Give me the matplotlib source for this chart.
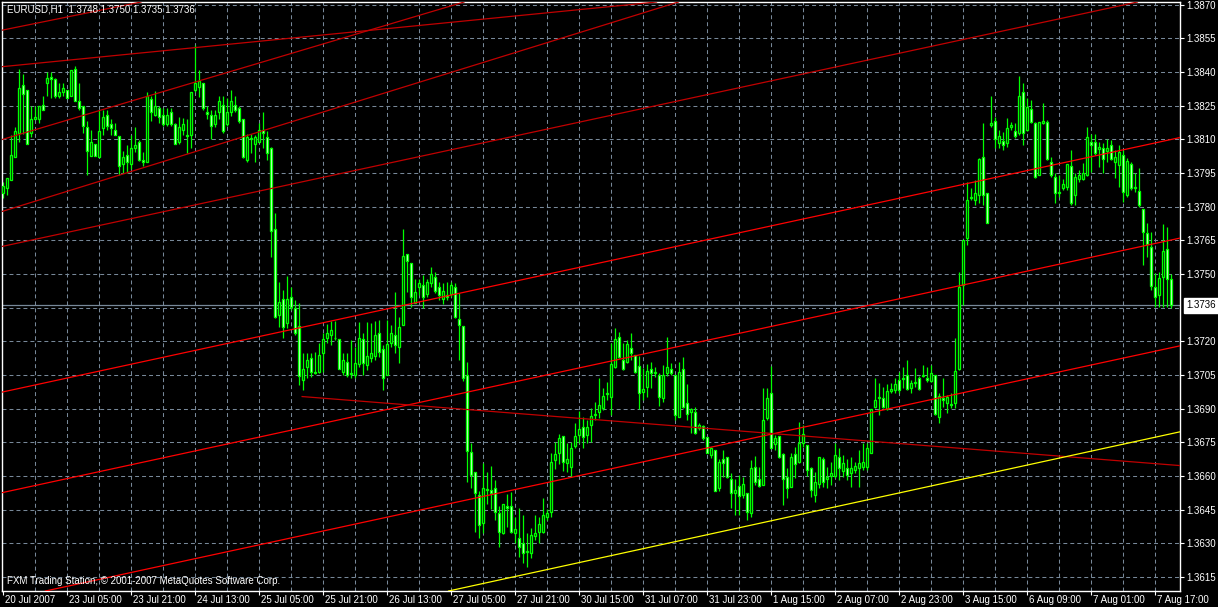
import numpy as np
import matplotlib
matplotlib.use('Agg')
import matplotlib.pyplot as plt
from matplotlib import transforms

# EURUSD H1 candles, values are pips above BASE
BASE = 1.3600

opens = [
    186, 188.5, 192, 202, 213, 234, 232, 213, 219, 219,
    225.5, 235, 238, 237, 229.5, 231, 232, 229.5, 241.5, 227,
    225, 215.5, 202.5, 208, 202, 215, 221, 217, 214, 211.5,
    199, 203, 199, 206, 209, 201, 200, 228, 221, 224,
    221, 217, 222, 217, 209, 214, 212, 212, 232, 233.5,
    235, 222, 221, 217, 222, 225.5, 217, 222, 225.5, 224,
    219, 201, 210.5, 208, 209, 214, 211, 206, 170, 131.7,
    138.7, 128, 139.9, 134.7, 126.8, 102.7, 108.7, 112.8, 106.4, 106.4,
    114.6, 121.6, 122.8, 121.7, 120.9, 106.4, 110.6, 105.5, 105, 109.7,
    120.9, 109.4, 112.8, 113.6, 123.5, 116.8, 105, 119.4, 122.8, 117.6,
    127.2, 158.9, 154.7, 137, 144, 145.1, 141.1, 145.8, 148.8, 144,
    138.7, 140.6, 141.1, 144, 129.9, 126.8, 105, 70.7, 61.6, 51.5,
    39.2, 54, 53.8, 54.5, 43.4, 34.4, 46.6, 46.6, 34.4, 32.2,
    30.3, 26.3, 25.5, 33.3, 35.2, 35, 41.6, 44.1, 67.1, 70.4,
    77.8, 65.6, 64.1, 73.4, 78.3, 82, 78.3, 82.7, 87.2, 88.7,
    90.2, 96.5, 95.3, 108.7, 121.8, 111.7, 110.9, 116.9, 113.9, 109,
    97.6, 99.5, 107.5, 105.7, 105, 94.6, 105.7, 107.5, 105, 86.4,
    107.5, 92.7, 88.7, 88.7, 81.2, 82.3, 77.5, 69.3, 71.6, 54.5,
    67.4, 68.3, 58.5, 52.3, 55.5, 51.5, 52.3, 43.4, 64.1, 58.5,
    56, 85.7, 96.8, 74.2, 77.8, 69.8, 59.4, 55.2, 69.6, 66.4,
    74.5, 73.8, 63.4, 51.5, 56.4, 67.4, 58.5, 60, 60, 68.3,
    62.4, 63.4, 61.5, 62.7, 63.4, 64.1, 64.1, 70.4, 90.6, 94.6,
    94.6, 89.7, 97.9, 98.3, 102.8, 103, 105, 99.1, 101.3, 103.8,
    104.5, 103.8, 102.5, 105, 86.4, 94.6, 92.4, 92, 92.7, 107.5,
    145.1, 165.9, 184, 183, 185.2, 202, 185.9, 216.5, 218.2, 208.2,
    209.3, 208.2, 215.4, 213.9, 212.7, 231.3, 214.2, 223.4, 217.1, 194.1,
    217.5, 217.9, 200.1, 193.1, 186.2, 188.2, 188.9, 198.1, 185.2, 192.2,
    192.2, 194.1, 209, 209, 205.6, 206, 205, 207.5, 200.1, 198.6,
    203, 185.2, 199, 188.2, 187, 178.8, 168.1, 161.9, 144.1, 140.7,
    148.8, 161, 148,
]

highs = [
    191, 193, 212, 215.5, 241.5, 239, 232, 225, 225, 225,
    229.5, 240, 240, 237.5, 235, 235, 232, 241, 242.5, 235,
    225, 218, 214, 208, 223, 223, 223, 219, 217.5, 211.5,
    205, 207.5, 212, 215.5, 209.5, 204.5, 231, 229.5, 231.5, 225,
    224, 224, 224, 217.5, 220, 219.5, 219, 231, 252, 241,
    235, 225, 223, 223, 229.5, 229.5, 228.5, 232, 229.5, 225,
    219, 212.5, 212.5, 212, 217.5, 222, 213.5, 206.5, 177, 146.5,
    142.8, 149, 144.3, 138.4, 136.9, 114.6, 114.6, 114.6, 115.4, 119.1,
    123.5, 127.7, 129, 129.2, 120.9, 114.6, 114.6, 120.6, 117.6, 128.7,
    123.5, 128.7, 128, 129, 129.5, 118.3, 129.5, 127.2, 142.1, 131,
    169.9, 158.9, 154.7, 148, 148, 149.5, 148, 153.2, 151, 146.5,
    145.8, 146.5, 146.5, 146.1, 141.4, 126.8, 110.9, 74.6, 61.6, 53.5,
    65.9, 61.9, 64.6, 58.2, 46.6, 47.5, 52, 53, 41.6, 45.6,
    42.6, 34.7, 36.7, 42.6, 41.6, 50, 45.1, 70.1, 75.3, 78.7,
    77.8, 74.6, 75.3, 83.5, 89.1, 86.1, 84.9, 90.2, 93.1, 103.5,
    99.1, 102, 119.1, 125.8, 124.3, 119.1, 120.6, 123.6, 113.9, 113.5,
    108, 110, 110.9, 108.7, 105.7, 109.4, 121.8, 110.2, 105, 110.9,
    113.2, 101, 90.1, 90.6, 83.5, 82.7, 77.5, 73.1, 71.6, 67.4,
    71.6, 68.3, 61.2, 58.5, 60.4, 59.7, 52.3, 67.1, 68.9, 64.1,
    99, 99, 109, 78.3, 77.8, 70.4, 63.4, 70.1, 73.1, 84.2,
    82.7, 73.8, 64.1, 61.9, 68.6, 68.3, 64.1, 66.4, 74.8, 72.3,
    69.3, 67.4, 68.6, 66.4, 71.6, 74.5, 74.5, 89.7, 103.5, 101.3,
    99.8, 101, 101.3, 103.5, 106.5, 108.7, 111.7, 102.8, 108, 104.6,
    109.5, 108.7, 109.5, 105, 96.8, 103.5, 96.3, 96.8, 121.3, 151,
    165.1, 191.2, 188.2, 191.9, 201.5, 217.1, 185.9, 229.3, 220.1, 214.2,
    213.4, 219.4, 217.9, 217.1, 238.2, 235.3, 228.3, 227.5, 217.9, 217.9,
    226.4, 218.6, 202.3, 194.9, 194.1, 192.2, 198.9, 205.3, 194.9, 196.3,
    199.6, 215.7, 212.4, 212.4, 209, 208.5, 210, 209.7, 205.3, 207.5,
    205.3, 201.5, 200.1, 194.9, 197.1, 178.8, 172.6, 168.9, 150.3, 151,
    172.3, 170.8, 150,
]

lows = [
    184, 185, 192, 202, 209, 212.5, 208, 211, 219, 217.5,
    223, 229.5, 228.5, 228.5, 228.5, 229.5, 228.5, 229.5, 227, 223,
    213, 194, 202.5, 202.5, 202, 212, 214, 212, 212, 194,
    195, 195, 197, 204.5, 200.5, 198, 200, 218, 220.5, 217.5,
    216, 216, 216, 208, 208, 212, 204, 206, 231, 229,
    223, 219, 210, 215.5, 219, 213, 216, 220.5, 222, 217.5,
    201.5, 200, 204, 200, 209, 206, 201, 157.5, 130.5, 126.5,
    121.7, 126, 134, 122.8, 100.5, 98.3, 103.5, 104, 105.4, 105.7,
    106.4, 119.1, 118.3, 120.6, 107.5, 105, 104.2, 103.5, 103.5, 108.7,
    105, 107.2, 110.9, 111.6, 113.1, 98.3, 105, 117.6, 114.6, 110.2,
    127.2, 142.1, 135.4, 136.9, 140.6, 134.7, 139.9, 144.3, 141.4, 138.4,
    136.6, 138.4, 139.9, 130.2, 111.7, 102.5, 57.5, 54.5, 35.2, 32.2,
    34.4, 47.5, 45.1, 40.4, 28.5, 34, 37.4, 34.4, 30, 24,
    21.4, 19.6, 23.3, 31.5, 30, 34.4, 40.4, 41.6, 63, 65.3,
    62.4, 61.9, 59.7, 72.3, 74.6, 72.3, 74.6, 75.3, 84.9, 85.7,
    89.4, 93.9, 87.2, 108, 112.4, 107.2, 110.2, 111.7, 106, 89.7,
    93.9, 95.3, 99, 104, 91.2, 93.1, 104.5, 105, 84.9, 86.4,
    90.1, 84.9, 79, 78.7, 80.5, 76, 70.1, 68, 53.5, 53.5,
    59.7, 59, 45.6, 42.6, 42.6, 50, 40.4, 41.9, 56, 55.2,
    56, 84.9, 72.3, 71.6, 67.9, 47.1, 50, 55.2, 59, 65.6,
    73.1, 60, 50.8, 48.6, 54.5, 55.2, 54.5, 56, 59, 58.2,
    59.7, 58.2, 55.2, 61.2, 55.2, 62.7, 62.7, 70.1, 90.1, 87.2,
    90.1, 89.4, 96.8, 96.8, 96.8, 99.1, 98.3, 96.8, 99.8, 98.3,
    104.2, 102, 102, 87.2, 83.5, 90.9, 87.9, 90.2, 90.2, 107.2,
    136.2, 162.9, 183, 180.8, 181.5, 180.8, 172.6, 215.5, 206, 206,
    205.3, 206.7, 214.2, 210.5, 212, 207.5, 213.9, 217.1, 192.6, 194.1,
    217, 200.8, 193.4, 181.8, 184.5, 187.4, 187.4, 180.8, 180.8, 191.2,
    191.9, 193.7, 195.6, 203, 197.8, 195.2, 200.1, 200.8, 192.6, 188.9,
    182.2, 184.5, 187.4, 186.7, 180, 154, 157.7, 142.9, 135.5, 135.5,
    135.5, 135.5, 135,
]

closes = [
    189, 193, 203, 213.5, 233, 230, 208, 219, 220, 225,
    223, 237.5, 237, 229.5, 231, 233, 228.5, 241, 227, 224,
    216, 205, 209, 202.5, 213.5, 220, 216, 215, 212, 198,
    202, 200, 206, 207.5, 201, 200, 229.5, 222, 225, 220,
    217, 221, 217, 208, 215.5, 217, 211.5, 231, 235, 236,
    224, 221.5, 216, 221, 227, 213.5, 222, 227, 223, 218,
    202, 211, 210, 211, 214, 213, 204, 169, 130.7, 137.6,
    126.5, 138.7, 135.4, 123.5, 104.5, 107.5, 111.6, 106.4, 105.7, 113.9,
    120.9, 123.5, 125, 121.3, 107.5, 111.6, 105, 105.7, 110.5, 121.7,
    110.5, 113.4, 114.6, 122.8, 115.4, 103.5, 118.6, 123.5, 118.3, 126.5,
    158, 155.9, 139.9, 141.8, 145.8, 139.6, 146.5, 150, 142.5, 140.6,
    142.5, 139.9, 145.1, 130.7, 127.5, 103.5, 71.3, 60.4, 52.3, 38.2,
    54.5, 53.6, 52.3, 44.1, 35.2, 47.5, 45.6, 35.2, 36.2, 28.2,
    25.5, 26.7, 33.7, 34.4, 38.4, 42.6, 43.4, 66.4, 69.8, 76.8,
    66.4, 67.4, 72.3, 77.8, 80.8, 77.5, 82, 86.7, 87.6, 91.6,
    95.6, 97, 109.9, 120.9, 112.9, 107.5, 118.8, 114.7, 106.5, 96.8,
    98.6, 106.9, 105.7, 106.5, 95.3, 105, 108.7, 105.7, 87.2, 106.5,
    90.6, 87.6, 89.7, 79.3, 82.7, 76.8, 70.4, 72.3, 53.5, 66.4,
    65.6, 59.4, 52.3, 53.7, 51.1, 56.4, 44.1, 63.4, 57.5, 55.5,
    84.9, 94.6, 72.3, 76.8, 68.3, 58.5, 54.5, 68.3, 65.3, 74.5,
    78.7, 62.7, 53.7, 57.5, 68.3, 57.5, 59.7, 61.5, 69.3, 63.4,
    65.6, 60.4, 63.4, 64.4, 65.6, 66.4, 72.3, 89.7, 93.9, 95.3,
    90.6, 97.9, 98.6, 101, 98.3, 103.5, 98.6, 101.3, 102, 98.6,
    105, 102.8, 105.7, 87.6, 95.6, 93.9, 95, 91.6, 106.9, 144.4,
    165.1, 183, 184.5, 185.9, 201.1, 185.2, 172.9, 217.1, 210, 211.5,
    207.5, 215.2, 216.2, 211.5, 229.3, 213, 224.6, 217.9, 193.1, 217.9,
    218, 201.1, 194.1, 185.9, 186.7, 190, 198.9, 181.8, 193.4, 194.1,
    194.9, 211.2, 207.5, 204.1, 206.4, 201.1, 206, 201.1, 202, 204.5,
    186.7, 200.4, 188.2, 188.9, 180.8, 168.9, 163.4, 144.7, 139.9, 148.1,
    160.2, 148, 136,
]

date_labels = [
    '20 Jul 2007', '23 Jul 05:00', '23 Jul 21:00', '24 Jul 13:00',
    '25 Jul 05:00', '25 Jul 21:00', '26 Jul 13:00', '27 Jul 05:00',
    '27 Jul 21:00', '30 Jul 15:00', '31 Jul 07:00', '31 Jul 23:00',
    '1 Aug 15:00', '2 Aug 07:00', '2 Aug 23:00', '3 Aug 15:00',
    '6 Aug 09:00', '7 Aug 01:00', '7 Aug 17:00',
]
bars_per_label = 16

price_labels = ['1.3870', '1.3855', '1.3840', '1.3825', '1.3810', '1.3795',
                '1.3780', '1.3765', '1.3750', '1.3735', '1.3720', '1.3705',
                '1.3690', '1.3675', '1.3660', '1.3645', '1.3630', '1.3615']
last_price = 1.3736
last_label = '1.3736'
title = 'EURUSD,H1  1.3748 1.3750 1.3735 1.3736'
copyright_txt = 'FXM Trading Station, \u00a9 2001-2007 MetaQuotes Software Corp.'

# trend lines: (bar, price) -> (bar, price)
red_lines = [((0, 1.36975), (214.2, 1.37800)),
             ((0, 1.36527), (214.2, 1.37352)),
             ((0, 1.36047), (214.2, 1.36872))]
darkred_lines = [((0, 1.37624), (214.2, 1.38446)),
                 ((-0.15, 1.38587), (30, 1.38696)),
                 ((-0.15, 1.38424), (74.2, 1.38555)),
                 ((-0.15, 1.38100), (69.2, 1.38468)),
                 ((5, 1.37808), (89.6, 1.38275))]
darkred_ray = ((74.7, 1.36954), (221.7, 1.36748))
yellow_line = ((135.4, 1.36181), (294.2, 1.36797))

LIME = '#00FF00'
GRID = '#778899'
RED = '#FF0000'
DARKRED = '#C00000'
FONT = ['Liberation Sans', 'DejaVu Sans']
FS = 7

o = BASE + np.array(opens) / 1e4
h = BASE + np.array(highs) / 1e4
l = BASE + np.array(lows) / 1e4
c = BASE + np.array(closes) / 1e4
x = np.arange(len(c))

fig = plt.figure(figsize=(12.18, 6.07), dpi=100, facecolor='black')
ax = fig.add_axes([2 / 1218, 16 / 607, 1178 / 1218, 589 / 607])
ax.set_facecolor('black')
ax.set_xlim(-0.325, 294.175)
ax.set_ylim(1.360876, 1.387120)

# grid
levels = [float(s) for s in price_labels]
dash = (0, (3.8, 2.9))
for lv in levels:
    ax.axhline(lv, color=GRID, lw=0.75, ls=dash, zorder=1)
for i in range(8, 295, 8):
    ax.axvline(i, color=GRID, lw=0.75, ls=dash, zorder=1)
ax.axhline(last_price, color=GRID, lw=0.9, zorder=1.5)

# candles
top = np.maximum(np.maximum(h, o), c)
bot = np.minimum(np.minimum(l, o), c)
ax.vlines(x, bot, top, color=LIME, lw=0.9, zorder=2)
body_lo = np.minimum(o, c)
body_h = np.abs(c - o)
fills = np.where(c >= o, 'black', 'white')
ax.bar(x, body_h, bottom=body_lo, width=0.55, color=fills, edgecolor=LIME,
       linewidth=0.95, zorder=3)

# trend lines
for p1, p2 in red_lines:
    ax.axline(p1, p2, color=RED, lw=0.9, zorder=4)
for p1, p2 in darkred_lines:
    ax.axline(p1, p2, color=DARKRED, lw=0.9, zorder=4)
(rx1, ry1), (rx2, ry2) = darkred_ray
slope = (ry2 - ry1) / (rx2 - rx1)
ax.plot([rx1, 300], [ry1, ry1 + slope * (300 - rx1)], color=DARKRED, lw=0.9, zorder=4)
ax.axline(*yellow_line, color='#FFFF00', lw=0.9, zorder=4)

for sp in ax.spines.values():
    sp.set_color('white')
    sp.set_linewidth(1.0)

# price axis on the right
ax.yaxis.tick_right()
shown = [i for i, s in enumerate(price_labels) if s != '1.3735']
ax.set_yticks([levels[i] for i in shown])
ax.set_yticklabels([price_labels[i] for i in shown], family=FONT, fontsize=FS, color='white')
ax.tick_params(axis='y', colors='white', length=3, width=0.8, pad=1.5)
ax.text(1.0, last_price, last_label,
        transform=transforms.offset_copy(ax.get_yaxis_transform(), fig=fig, x=6, y=0, units='dots'),
        ha='left', va='center', color='black', family=FONT, fontsize=FS,
        bbox=dict(facecolor='white', edgecolor='white', boxstyle='square,pad=0.25'))

# time axis
ticks = [k * bars_per_label for k in range(len(date_labels))]
ax.set_xticks(ticks)
ax.set_xticklabels([])
ax.tick_params(axis='x', colors='white', length=3, width=0.8)
tt = transforms.offset_copy(ax.get_xaxis_transform(), fig=fig, x=1.5, y=-9, units='dots')
for t, lab in zip(ticks, date_labels):
    ax.text(t, 0, lab, transform=tt, ha='left', va='center', color='white',
            family=FONT, fontsize=FS)

fig.text(7 / 1218, 1 - 10 / 607, title, color='white', ha='left', va='center',
         family=FONT, fontsize=FS)
fig.text(7 / 1218, 1 - 581 / 607, copyright_txt, color='white', ha='left', va='center',
         family=FONT, fontsize=FS)

fig.savefig('out.png', dpi=100, facecolor='black')
